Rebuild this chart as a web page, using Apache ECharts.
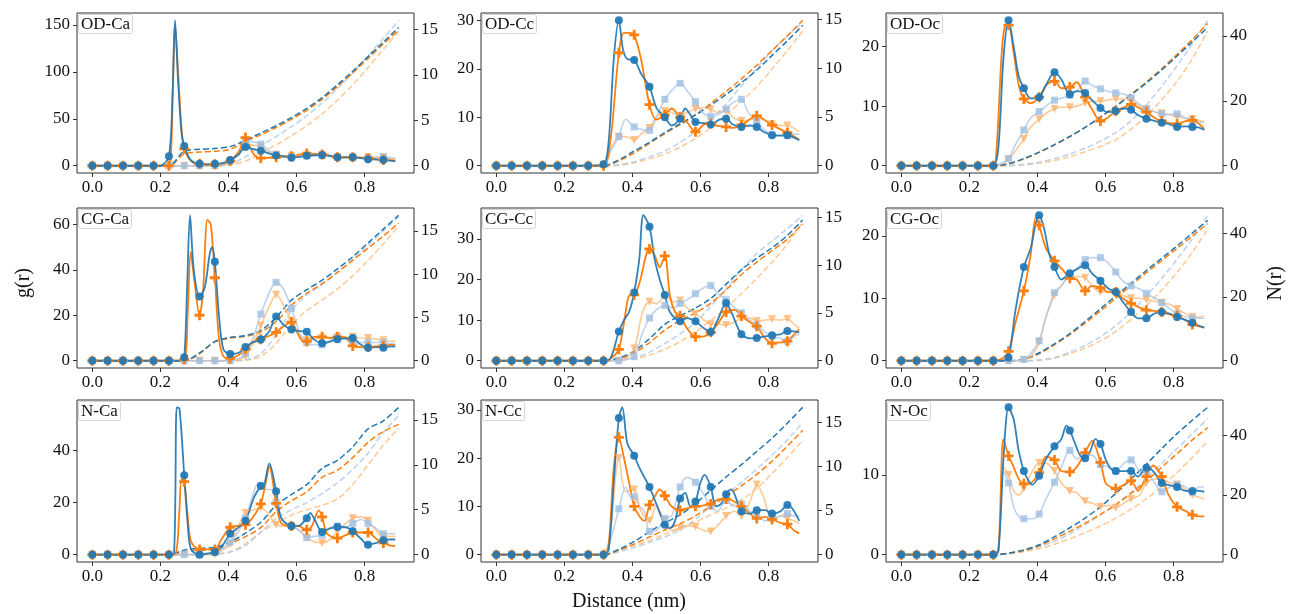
<!DOCTYPE html>
<html><head><meta charset="utf-8">
<script src="https://cdn.jsdelivr.net/npm/echarts@6/dist/echarts.min.js"></script>
<style>html,body{margin:0;padding:0;background:#fff}#c{width:1293px;height:614px}</style>
</head><body><div id="c"></div>
<script>
// ---------------- DATA ----------------
const panelNames = ['OD-Ca','OD-Cc','OD-Oc','CG-Ca','CG-Cc','CG-Oc','N-Ca','N-Cc','N-Oc'];
const xTicks = [0, 0.2, 0.4, 0.6, 0.8];
const leftTicks = [[0,50,100,150],[0,10,20,30],[0,10,20],[0,20,40,60],[0,10,20,30],[0,10,20],[0,20,40],[0,10,20,30],[0,10]];
const rightTicks = [[0,5,10,15],[0,5,10,15],[0,20,40],[0,5,10,15],[0,5,10,15],[0,20,40],[0,5,10,15],[0,5,10,15],[0,20,40]];
const rN = [0,0.045,0.09,0.135,0.18,0.225,0.27,0.315,0.36,0.405,0.45,0.495,0.54,0.585,0.63,0.675,0.72,0.765,0.81,0.855,0.9];

// OD-Ca
const gB_ODCa = [[0,0],[0.045,0],[0.09,0],[0.135,0],[0.18,0],[0.2,0],[0.225,10],[0.236,80],[0.243,155],[0.252,90],[0.262,35],[0.27,21],[0.285,8],[0.3,3],[0.315,2],[0.34,1.5],[0.36,2],[0.385,3],[0.405,6],[0.43,12],[0.45,20],[0.47,18],[0.495,16],[0.52,13],[0.54,11],[0.56,10],[0.585,8.5],[0.61,9.5],[0.63,10.5],[0.65,11],[0.675,11.5],[0.7,10.5],[0.72,9],[0.745,9],[0.765,9],[0.79,8],[0.81,7],[0.835,6.5],[0.855,6],[0.875,5.5],[0.89,5]];
const gO_ODCa = [[0,0],[0.045,0],[0.09,0],[0.135,0],[0.18,0],[0.225,0],[0.232,20],[0.243,150],[0.252,100],[0.262,40],[0.27,18],[0.285,7],[0.3,3],[0.315,2],[0.34,1],[0.36,1.5],[0.385,2.5],[0.405,5],[0.43,15],[0.45,30],[0.465,18],[0.48,10],[0.495,8],[0.52,8.5],[0.54,9],[0.56,10],[0.585,10],[0.61,12],[0.63,13],[0.65,12.5],[0.675,12],[0.7,10.5],[0.72,9],[0.745,9],[0.765,9],[0.79,8.5],[0.81,8],[0.835,7],[0.855,6],[0.875,6],[0.89,5.5]];
const gLB_ODCa = [[0,0],[0.045,0],[0.09,0],[0.135,0],[0.18,0],[0.225,0],[0.27,0],[0.315,0],[0.36,0],[0.385,1],[0.405,5],[0.43,15],[0.45,24],[0.465,26],[0.48,25],[0.495,23],[0.52,16],[0.54,12],[0.56,10.5],[0.585,10],[0.61,10.5],[0.63,11],[0.65,11],[0.675,11],[0.7,10],[0.72,9],[0.745,9],[0.765,9],[0.79,8.5],[0.81,8.5],[0.835,9],[0.855,9.5],[0.875,8.5],[0.89,8]];
const gLO_ODCa = [[0,0],[0.045,0],[0.09,0],[0.135,0],[0.18,0],[0.225,0],[0.27,0],[0.315,0],[0.36,0],[0.385,0.5],[0.405,4],[0.43,13],[0.45,21],[0.47,22],[0.495,20],[0.52,14],[0.54,12],[0.56,10.5],[0.585,10],[0.61,11],[0.63,11.5],[0.65,11.5],[0.675,11.5],[0.7,10],[0.72,9],[0.745,9],[0.765,9],[0.79,9],[0.81,9],[0.835,9],[0.855,9],[0.875,8],[0.89,7]];
const nB_ODCa = [0,0,0,0,0,0,1.6,1.8,1.9,2.1,2.8,3.6,4.4,5.3,6.3,7.5,8.9,10.4,12.0,13.6,15.2];
const nO_ODCa = [0,0,0,0,0,0,1.3,1.5,1.6,1.8,2.7,3.4,4.2,5.1,6.1,7.3,8.7,10.2,11.8,13.4,14.9];
const nLB_ODCa = [0,0,0,0,0,0,0,0,0,0.2,1.0,2.2,3.2,4.3,5.5,6.9,8.5,10.2,12.1,14.0,16.0];
const nLO_ODCa = [0,0,0,0,0,0,0,0,0,0.1,0.5,1.4,2.3,3.3,4.4,5.7,7.2,8.9,10.8,12.8,14.8];

// OD-Cc
const gB_ODCc = [[0,0],[0.045,0],[0.09,0],[0.135,0],[0.18,0],[0.225,0],[0.27,0],[0.315,0.3],[0.33,5],[0.345,22],[0.36,30],[0.372,24],[0.385,22],[0.405,21.8],[0.425,19],[0.45,16.3],[0.47,12],[0.495,10],[0.515,8.3],[0.54,9.7],[0.555,11.8],[0.57,10.5],[0.585,9],[0.61,8.8],[0.63,8.5],[0.655,9.5],[0.675,9.7],[0.695,8.5],[0.72,8],[0.745,8.3],[0.765,8],[0.785,7],[0.81,6.3],[0.835,6.2],[0.855,6.3],[0.875,5.8],[0.89,5.3]];
const gO_ODCc = [[0,0],[0.045,0],[0.09,0],[0.135,0],[0.18,0],[0.225,0],[0.27,0],[0.315,0],[0.335,5],[0.36,23.3],[0.375,27.4],[0.39,27.4],[0.405,27],[0.425,22],[0.45,12.6],[0.47,9.5],[0.495,10.5],[0.515,11.8],[0.54,10],[0.56,9],[0.585,7],[0.61,8.5],[0.63,8.7],[0.65,8.2],[0.675,8],[0.695,7.8],[0.72,8.4],[0.745,9.6],[0.765,10.3],[0.785,9.6],[0.81,8.4],[0.835,7.5],[0.855,6.8],[0.875,6],[0.89,5.3]];
const gLB_ODCc = [[0,0],[0.045,0],[0.09,0],[0.135,0],[0.18,0],[0.225,0],[0.27,0],[0.315,0.3],[0.335,3],[0.36,6],[0.38,9.6],[0.405,8],[0.425,7.5],[0.45,7.3],[0.47,10],[0.495,13.7],[0.515,15.5],[0.54,17],[0.56,15.5],[0.585,13.2],[0.605,11],[0.63,10.2],[0.65,10.5],[0.675,11.7],[0.695,13],[0.72,13.7],[0.74,11],[0.765,9.3],[0.785,7.5],[0.81,6.5],[0.835,6.3],[0.855,6.3],[0.875,6.5],[0.89,6.5]];
const gLO_ODCc = [[0,0],[0.045,0],[0.09,0],[0.135,0],[0.18,0],[0.225,0],[0.27,0],[0.315,0],[0.335,3],[0.36,6],[0.38,6],[0.405,5.3],[0.425,6.5],[0.45,7.8],[0.47,10],[0.495,11.3],[0.515,11],[0.54,10.3],[0.56,11],[0.585,11.7],[0.61,12],[0.63,11.6],[0.65,11],[0.675,11.3],[0.695,10],[0.72,9.3],[0.745,9.5],[0.765,9.8],[0.785,9.5],[0.81,8.5],[0.835,8.3],[0.855,8.3],[0.875,7.7],[0.89,7]];
const nB_ODCc = [0,0,0,0,0,0,0,0,0.6,1.5,2.4,3.4,4.3,5.2,6.2,7.3,8.5,9.8,11.3,12.8,14.4];
const nO_ODCc = [0,0,0,0,0,0,0,0,0.5,1.3,2.3,3.3,4.2,5.2,6.4,7.6,8.9,10.3,11.8,13.3,14.9];
const nLB_ODCc = [0,0,0,0,0,0,0,0,0.1,0.4,0.9,1.5,2.4,3.5,4.8,6.3,8.2,10.0,11.8,13.3,14.7];
const nLO_ODCc = [0,0,0,0,0,0,0,0,0.05,0.3,0.7,1.2,1.9,2.8,3.9,5.2,6.6,8.1,9.9,11.8,13.8];

// OD-Oc
const gB_ODOc = [[0,0],[0.045,0],[0.09,0],[0.135,0],[0.18,0],[0.225,0],[0.27,0],[0.285,3],[0.3,18],[0.315,24.4],[0.33,20],[0.345,15],[0.36,13],[0.38,11.3],[0.405,11.5],[0.425,13.5],[0.45,15.7],[0.47,14.5],[0.495,12],[0.515,12.5],[0.54,12.2],[0.56,11],[0.585,9.7],[0.605,9],[0.63,9.2],[0.655,9.6],[0.675,9.4],[0.695,8.5],[0.72,7.9],[0.745,7.5],[0.765,7.2],[0.785,7],[0.81,6.5],[0.835,6.6],[0.855,6.5],[0.875,6.4],[0.89,6]];
const gO_ODOc = [[0,0],[0.045,0],[0.09,0],[0.135,0],[0.18,0],[0.225,0],[0.27,0],[0.28,3],[0.295,19],[0.305,23.5],[0.315,23.6],[0.33,19],[0.345,13.5],[0.36,11.2],[0.38,10.5],[0.405,11.5],[0.425,13.5],[0.45,14.2],[0.47,13],[0.495,13.2],[0.515,14],[0.54,11.5],[0.56,9.5],[0.585,7.5],[0.605,8],[0.63,9.2],[0.655,9.8],[0.675,10.3],[0.695,9.8],[0.72,9],[0.745,8],[0.765,7.5],[0.785,7.2],[0.81,7],[0.835,7.5],[0.855,7.6],[0.875,7],[0.89,6.2]];
const gLB_ODOc = [[0,0],[0.045,0],[0.09,0],[0.135,0],[0.18,0],[0.225,0],[0.27,0],[0.29,0.3],[0.315,1.2],[0.335,3.5],[0.36,6],[0.38,8],[0.405,9.1],[0.425,10],[0.45,11],[0.47,11.3],[0.495,11.8],[0.515,12.5],[0.54,14.2],[0.56,13.5],[0.585,12.9],[0.605,12.5],[0.63,12.2],[0.655,12],[0.675,11.4],[0.695,10.5],[0.72,9.5],[0.745,9],[0.765,8.7],[0.785,8.6],[0.81,8.7],[0.835,8],[0.855,7.5],[0.875,7.3],[0.89,7.2]];
const gLO_ODOc = [[0,0],[0.045,0],[0.09,0],[0.135,0],[0.18,0],[0.225,0],[0.27,0],[0.29,0.2],[0.315,1],[0.335,2.5],[0.36,4.5],[0.38,6.5],[0.405,7.8],[0.425,8.8],[0.45,9.5],[0.47,9.8],[0.495,9.8],[0.515,10],[0.54,10.5],[0.56,10.8],[0.585,10.8],[0.605,11],[0.63,11.2],[0.655,11.2],[0.675,11],[0.695,10.2],[0.72,9.5],[0.745,9],[0.765,8.8],[0.785,8.6],[0.81,8.2],[0.835,8],[0.855,7.8],[0.875,7.6],[0.89,7.4]];
const nB_ODOc = [0,0,0,0,0,0,0,0.6,2.2,4.2,6.5,9.0,11.8,15.0,18.3,21.8,25.5,29.5,33.8,38.2,42.6];
const nO_ODOc = [0,0,0,0,0,0,0,0.6,2.1,4.1,6.4,9.0,11.8,15.0,18.4,22.0,25.8,29.9,34.3,38.9,43.8];
const nLB_ODOc = [0,0,0,0,0,0,0,0.05,0.4,1.1,2.2,3.6,5.4,7.6,10.2,13.8,18.7,24.5,30.8,37.5,44.8];
const nLO_ODOc = [0,0,0,0,0,0,0,0.03,0.3,0.8,1.6,2.8,4.3,6.0,8.0,11.3,15.3,20.3,26.0,33.0,41.5];

// CG-Ca
const gB_CGCa = [[0,0],[0.045,0],[0.09,0],[0.135,0],[0.18,0],[0.225,0],[0.26,0],[0.27,1.5],[0.278,30],[0.287,64],[0.298,40],[0.315,28.3],[0.33,32],[0.345,47],[0.352,50],[0.36,43.5],[0.372,20],[0.385,5],[0.405,3],[0.43,3.5],[0.45,6],[0.47,8],[0.495,9.3],[0.52,13],[0.54,19.5],[0.56,16],[0.585,13.7],[0.61,13],[0.63,12.7],[0.65,9.5],[0.675,7.7],[0.7,8.5],[0.72,9.5],[0.745,9.8],[0.765,10],[0.785,7.5],[0.81,5.7],[0.835,6],[0.855,5.7],[0.875,6.3],[0.89,6.2]];
const gO_CGCa = [[0,0],[0.045,0],[0.09,0],[0.135,0],[0.18,0],[0.225,0],[0.27,0.5],[0.28,20],[0.289,48],[0.3,35],[0.315,20],[0.325,30],[0.338,62],[0.348,60],[0.36,36.5],[0.372,10],[0.385,2],[0.405,1],[0.43,2.5],[0.45,5],[0.47,8],[0.495,9.5],[0.52,11],[0.54,12.5],[0.56,15],[0.585,17],[0.6,13],[0.615,9],[0.63,8.5],[0.65,10.5],[0.675,10.5],[0.7,10],[0.72,10.5],[0.745,10],[0.765,6.5],[0.785,6],[0.81,6],[0.835,6.3],[0.855,6.5],[0.875,7],[0.89,7]];
const gLB_CGCa = [[0,0],[0.045,0],[0.09,0],[0.135,0],[0.18,0],[0.225,0],[0.27,0],[0.315,0],[0.36,0],[0.405,0],[0.43,1],[0.45,3],[0.47,9],[0.495,20.5],[0.52,30],[0.54,34.5],[0.56,32],[0.585,23],[0.61,12],[0.63,8],[0.65,7],[0.675,7],[0.7,9],[0.72,10.5],[0.745,9.5],[0.765,8],[0.785,8],[0.81,8],[0.835,8],[0.855,8],[0.875,7.5],[0.89,7.5]];
const gLO_CGCa = [[0,0],[0.045,0],[0.09,0],[0.135,0],[0.18,0],[0.225,0],[0.27,0],[0.315,0],[0.36,0],[0.405,0],[0.43,0.5],[0.45,2],[0.47,7],[0.495,15.5],[0.52,24],[0.54,29],[0.56,25],[0.585,17.5],[0.61,11],[0.63,9],[0.65,9.5],[0.675,10],[0.7,10],[0.72,10.5],[0.745,10.5],[0.765,10.5],[0.785,10],[0.81,10],[0.835,9.5],[0.855,9],[0.875,8.5],[0.89,8.5]];
const nB_CGCa = [0,0,0,0,0,0,0,0.9,2.2,2.7,2.9,3.5,5.0,7.0,8.2,9.3,10.6,12.0,13.6,15.2,16.8];
const nO_CGCa = [0,0,0,0,0,0,0,0.8,2.2,2.6,2.8,3.3,4.5,6.4,7.8,8.9,10.2,11.6,13.0,14.4,15.9];
const nLB_CGCa = [0,0,0,0,0,0,0,0,0,0,0.1,0.8,3.0,5.8,7.6,8.8,10.2,11.7,13.3,15.0,16.6];
const nLO_CGCa = [0,0,0,0,0,0,0,0,0,0,0.05,0.5,2.0,4.2,5.8,7.0,8.3,9.8,11.6,13.5,15.6];

// CG-Cc
const gB_CGCc = [[0,0],[0.045,0],[0.09,0],[0.135,0],[0.18,0],[0.225,0],[0.27,0],[0.315,0],[0.335,0.5],[0.36,7.2],[0.375,10],[0.39,12],[0.405,16.8],[0.42,25],[0.432,35.8],[0.45,33],[0.465,25],[0.48,20],[0.495,16.2],[0.51,12],[0.54,9.7],[0.56,10.5],[0.585,9.7],[0.61,8],[0.63,7.1],[0.65,10],[0.675,14.2],[0.69,12],[0.72,6.5],[0.745,5.5],[0.765,5.6],[0.79,6],[0.81,6.3],[0.835,6.5],[0.855,7.3],[0.875,7.2],[0.89,7]];
const gO_CGCc = [[0,0],[0.045,0],[0.09,0],[0.135,0],[0.18,0],[0.225,0],[0.27,0],[0.315,0],[0.335,0.5],[0.36,2.8],[0.38,12],[0.39,16],[0.405,16.2],[0.42,19],[0.45,27.5],[0.465,26],[0.48,23],[0.495,25.8],[0.51,16],[0.525,12],[0.54,11],[0.56,8],[0.585,5.9],[0.61,6],[0.63,7],[0.65,9],[0.675,12],[0.7,12.5],[0.72,11],[0.745,9.5],[0.765,8.5],[0.79,5.5],[0.81,4.3],[0.835,4.5],[0.855,4.8],[0.875,6.5],[0.89,7.8]];
const gLB_CGCc = [[0,0],[0.045,0],[0.09,0],[0.135,0],[0.18,0],[0.225,0],[0.27,0],[0.315,0],[0.36,0],[0.38,0.3],[0.405,1],[0.43,7],[0.45,10.5],[0.47,12.5],[0.495,13.6],[0.52,13],[0.54,14.1],[0.56,15],[0.585,16.5],[0.61,18],[0.63,18.5],[0.65,16.5],[0.675,15],[0.7,13],[0.72,11.8],[0.745,10],[0.765,8.7],[0.79,7],[0.81,6],[0.835,5.5],[0.855,4.8],[0.875,6],[0.89,6.5]];
const gLO_CGCc = [[0,0],[0.045,0],[0.09,0],[0.135,0],[0.18,0],[0.225,0],[0.27,0],[0.315,0],[0.36,0],[0.38,0.5],[0.405,3],[0.43,12],[0.45,14.5],[0.47,14],[0.495,15.8],[0.52,14.5],[0.54,14.8],[0.56,13],[0.585,11.5],[0.61,10],[0.63,9],[0.65,9],[0.675,8.8],[0.7,9.5],[0.72,10.5],[0.745,10.5],[0.765,9.8],[0.79,10],[0.81,10.2],[0.835,10],[0.855,10.3],[0.875,9],[0.89,8]];
const nB_CGCc = [0,0,0,0,0,0,0,0,0.3,1.0,2.3,3.8,4.7,5.5,6.5,8.0,9.5,10.7,11.8,13.1,14.7];
const nO_CGCc = [0,0,0,0,0,0,0,0,0.2,0.8,1.9,3.2,4.2,5.0,6.0,7.4,9.0,10.3,11.5,12.7,14.3];
const nLB_CGCc = [0,0,0,0,0,0,0,0,0.05,0.3,0.9,1.8,2.8,4.0,5.7,7.5,9.5,11.2,12.5,13.8,15.2];
const nLO_CGCc = [0,0,0,0,0,0,0,0,0.03,0.2,0.6,1.2,2.0,3.0,4.2,5.5,7.0,8.6,10.3,12.2,14.5];

// CG-Oc
const gB_CGOc = [[0,0],[0.045,0],[0.09,0],[0.135,0],[0.18,0],[0.225,0],[0.27,0],[0.295,0],[0.315,0.5],[0.335,8],[0.36,15],[0.38,18],[0.395,22],[0.405,23.3],[0.42,21],[0.435,17],[0.45,15],[0.47,13],[0.495,14],[0.52,14.8],[0.54,15.3],[0.56,14],[0.585,12.8],[0.61,11.5],[0.63,11],[0.65,9.5],[0.675,7.8],[0.695,6.8],[0.72,6.8],[0.745,7.6],[0.765,7.8],[0.79,7.5],[0.81,7],[0.835,6.5],[0.855,6.1],[0.875,5.6],[0.89,5.3]];
const gO_CGOc = [[0,0],[0.045,0],[0.09,0],[0.135,0],[0.18,0],[0.225,0],[0.27,0],[0.295,0.3],[0.315,1.5],[0.335,6],[0.36,11.2],[0.38,17],[0.395,23],[0.405,21.7],[0.425,18],[0.45,16],[0.475,14.5],[0.495,13.2],[0.515,13],[0.54,11.2],[0.56,12],[0.585,11.7],[0.61,11],[0.63,11],[0.65,10],[0.675,9.2],[0.7,8.5],[0.72,8.1],[0.745,8],[0.765,7.8],[0.79,7.4],[0.81,7.2],[0.835,6.5],[0.855,5.8],[0.875,5.5],[0.89,5.3]];
const gLB_CGOc = [[0,0],[0.045,0],[0.09,0],[0.135,0],[0.18,0],[0.225,0],[0.27,0],[0.315,0],[0.36,0.2],[0.385,1.5],[0.405,3.2],[0.425,7],[0.45,10.9],[0.47,12],[0.495,13.8],[0.52,15],[0.54,16.2],[0.56,16.5],[0.585,16.5],[0.61,15.5],[0.63,14.2],[0.65,12.8],[0.675,12],[0.7,11.5],[0.72,10.8],[0.745,10],[0.765,9.3],[0.79,8.3],[0.81,7.5],[0.835,7],[0.855,6.8],[0.875,6.8],[0.89,6.8]];
const gLO_CGOc = [[0,0],[0.045,0],[0.09,0],[0.135,0],[0.18,0],[0.225,0],[0.27,0],[0.315,0],[0.36,0.1],[0.385,1],[0.405,3],[0.425,7],[0.45,10.5],[0.47,12],[0.495,13.5],[0.52,13.5],[0.54,13.3],[0.56,12],[0.585,11],[0.61,11],[0.63,11],[0.65,10.5],[0.675,10],[0.7,10],[0.72,9.8],[0.745,9.5],[0.765,9.3],[0.79,9],[0.81,8.3],[0.835,7.5],[0.855,7],[0.875,7],[0.89,7.2]];
const nB_CGOc = [0,0,0,0,0,0,0,0,0.5,2.5,5.3,8.5,12.3,16.3,20.3,24.3,28.3,32.1,36.0,40.0,44.0];
const nO_CGOc = [0,0,0,0,0,0,0,0,0.4,2.2,5.0,8.2,11.8,15.6,19.6,23.6,27.6,31.4,35.2,39.1,43.0];
const nLB_CGOc = [0,0,0,0,0,0,0,0,0,0.2,1.0,2.7,4.8,7.5,11.0,15.3,20.3,25.8,31.8,38.3,45.6];
const nLO_CGOc = [0,0,0,0,0,0,0,0,0,0.15,0.8,2.2,4.0,6.2,9.2,13.0,17.3,22.2,27.7,34.0,41.3];

// N-Ca
const gB_NCa = [[0,0],[0.045,0],[0.09,0],[0.135,0],[0.18,0],[0.225,0],[0.24,0.5],[0.248,56.5],[0.256,56],[0.27,30.5],[0.28,12],[0.29,2],[0.315,0],[0.34,0.5],[0.36,1],[0.38,3],[0.405,8],[0.425,10],[0.45,13],[0.475,22],[0.495,26.3],[0.505,27],[0.52,35],[0.54,24.3],[0.555,14],[0.585,11],[0.605,11],[0.63,14],[0.64,16],[0.655,13],[0.675,8.7],[0.695,10],[0.72,10.6],[0.745,10.5],[0.765,9],[0.79,6],[0.81,3.8],[0.835,4.5],[0.855,5.5],[0.875,5.8],[0.89,5.8]];
const gO_NCa = [[0,0],[0.045,0],[0.09,0],[0.135,0],[0.18,0],[0.225,0],[0.245,0.5],[0.255,15],[0.262,29],[0.27,28],[0.28,15],[0.29,5],[0.315,2],[0.34,2],[0.36,2],[0.38,6],[0.405,10.5],[0.425,11],[0.45,11.5],[0.47,14],[0.495,19.5],[0.51,28],[0.52,34],[0.54,19.7],[0.555,12],[0.585,11],[0.605,11],[0.63,9.5],[0.645,11],[0.665,17],[0.675,14.5],[0.69,8],[0.72,6.3],[0.745,7.5],[0.765,8.5],[0.79,8.5],[0.81,8.5],[0.835,6],[0.855,4.5],[0.875,3.5],[0.89,3.3]];
const gLB_NCa = [[0,0],[0.045,0],[0.09,0],[0.135,0],[0.18,0],[0.225,0],[0.27,0],[0.315,0],[0.36,0.8],[0.38,2],[0.405,4.8],[0.425,8],[0.45,14],[0.47,22],[0.485,27],[0.495,26.5],[0.51,25],[0.525,25],[0.54,20],[0.56,13],[0.585,11],[0.61,9],[0.63,6.5],[0.65,7],[0.675,7.5],[0.7,10],[0.72,11],[0.745,10.5],[0.765,12],[0.79,13.5],[0.81,12],[0.835,10],[0.855,8],[0.875,8],[0.89,8]];
const gLO_NCa = [[0,0],[0.045,0],[0.09,0],[0.135,0],[0.18,0],[0.225,0],[0.27,0],[0.315,0],[0.36,0],[0.38,1.5],[0.405,4],[0.425,10],[0.45,16],[0.47,17],[0.495,18],[0.515,16],[0.54,11.5],[0.56,11],[0.585,11],[0.61,9],[0.63,6.5],[0.65,5],[0.675,4.5],[0.7,6],[0.72,9],[0.745,12],[0.765,14],[0.79,14.5],[0.81,13],[0.835,9],[0.855,7],[0.875,7],[0.89,7]];
const nB_NCa = [0,0,0,0,0,0,0.5,0.7,0.8,1.4,2.4,3.6,5.5,6.7,7.8,9.6,10.5,12.0,14.0,14.9,16.4];
const nO_NCa = [0,0,0,0,0,0,0.3,0.5,0.6,1.2,2.0,3.0,4.8,6.0,7.0,8.6,9.4,10.8,12.5,13.7,14.5];
const nLB_NCa = [0,0,0,0,0,0,0,0,0.05,0.3,1.0,2.5,4.0,5.0,5.8,6.8,8.0,9.5,11.3,13.6,15.5];
const nLO_NCa = [0,0,0,0,0,0,0,0,0.05,0.3,1.2,2.5,3.5,4.4,5.0,5.5,6.2,7.8,10.0,12.2,14.1];

// N-Cc
const gB_NCc = [[0,0],[0.045,0],[0.09,0],[0.135,0],[0.18,0],[0.225,0],[0.27,0],[0.315,0],[0.33,1],[0.345,15],[0.36,28.3],[0.37,30.5],[0.385,23],[0.405,20.5],[0.42,18],[0.45,14],[0.47,10.5],[0.495,6.2],[0.51,5.5],[0.525,7],[0.54,11.6],[0.555,12.8],[0.57,10],[0.585,11],[0.6,15],[0.612,16.5],[0.63,14],[0.645,10],[0.66,10.5],[0.675,12.5],[0.69,13.5],[0.72,9],[0.745,8.5],[0.765,9.2],[0.79,9.2],[0.81,8.5],[0.835,9],[0.855,10.3],[0.87,9.5],[0.89,7]];
const gO_NCc = [[0,0],[0.045,0],[0.09,0],[0.135,0],[0.18,0],[0.225,0],[0.27,0],[0.315,0],[0.33,2],[0.345,18],[0.36,24.3],[0.375,20],[0.39,15],[0.405,10],[0.42,8],[0.435,7],[0.45,10.3],[0.465,12],[0.48,13.5],[0.495,12.2],[0.515,10],[0.54,9.2],[0.56,9.6],[0.585,10],[0.61,10.2],[0.63,10.5],[0.655,11.5],[0.675,11.5],[0.7,11],[0.72,10],[0.745,8.5],[0.765,7.5],[0.79,7.8],[0.81,7.3],[0.835,6.6],[0.855,6.3],[0.875,5],[0.89,4.4]];
const gLB_NCc = [[0,0],[0.045,0],[0.09,0],[0.135,0],[0.18,0],[0.225,0],[0.27,0],[0.315,0],[0.335,3],[0.36,9.5],[0.38,14],[0.395,12],[0.405,12],[0.42,10],[0.435,9],[0.45,4.8],[0.47,5],[0.495,7.5],[0.515,8],[0.54,14],[0.56,16],[0.585,15],[0.605,13],[0.63,10],[0.65,9],[0.675,11.2],[0.7,10],[0.72,10.5],[0.745,9],[0.765,8.5],[0.79,7],[0.81,7.5],[0.835,8],[0.855,8.5],[0.875,8],[0.89,8]];
const gLO_NCc = [[0,0],[0.045,0],[0.09,0],[0.135,0],[0.18,0],[0.225,0],[0.27,0],[0.315,0],[0.335,5],[0.36,20],[0.38,13],[0.405,13.5],[0.425,9],[0.45,7],[0.47,10],[0.495,7],[0.515,5],[0.54,5.5],[0.56,6],[0.585,5.8],[0.61,5],[0.63,4.8],[0.65,6],[0.675,8],[0.7,9],[0.72,8],[0.745,11],[0.765,14.5],[0.785,12],[0.81,7],[0.835,8],[0.855,7.5],[0.875,7],[0.89,6.5]];
const nB_NCc = [0,0,0,0,0,0,0,0,0.6,1.5,2.6,3.6,4.5,5.8,7.3,8.8,10.2,11.7,13.2,14.9,16.7];
const nO_NCc = [0,0,0,0,0,0,0,0,0.5,1.2,2.0,2.8,3.5,4.4,5.5,6.6,7.8,9.1,10.6,12.3,14.1];
const nLB_NCc = [0,0,0,0,0,0,0,0,0.3,0.8,1.4,2.0,2.8,4.0,5.5,6.8,8.2,9.7,11.3,13.0,15.0];
const nLO_NCc = [0,0,0,0,0,0,0,0,0.5,1.0,1.6,2.3,3.0,3.7,4.5,5.3,6.2,7.5,9.2,11.0,13.0];

// N-Oc
const gB_NOc = [[0,0],[0.045,0],[0.09,0],[0.135,0],[0.18,0],[0.225,0],[0.27,0],[0.285,0.5],[0.3,12],[0.315,18.5],[0.33,17],[0.345,13],[0.36,10.5],[0.375,9.2],[0.385,8.8],[0.405,9.9],[0.425,12],[0.45,13.6],[0.47,14.5],[0.485,16.2],[0.495,15.6],[0.51,14],[0.525,12.5],[0.54,12.1],[0.555,13],[0.57,14.5],[0.585,13.9],[0.6,12],[0.615,10.8],[0.63,10.5],[0.655,10.5],[0.675,10.5],[0.695,9.8],[0.72,10.9],[0.74,10.5],[0.765,9],[0.79,8.7],[0.81,8.5],[0.835,8],[0.855,8],[0.875,8],[0.89,7.9]];
const gO_NOc = [[0,0],[0.045,0],[0.09,0],[0.135,0],[0.18,0],[0.225,0],[0.27,0],[0.285,0.5],[0.3,14.5],[0.315,12.4],[0.33,11],[0.345,9.5],[0.36,8.9],[0.38,9],[0.405,10.3],[0.425,12.3],[0.45,11.9],[0.47,10.5],[0.495,10.4],[0.515,11],[0.54,12.8],[0.56,14.3],[0.585,11.6],[0.6,9],[0.615,8.5],[0.63,8.3],[0.655,8.8],[0.675,9.3],[0.695,8],[0.72,9.8],[0.74,11.2],[0.765,9.8],[0.785,7.5],[0.81,6],[0.835,5.5],[0.855,5],[0.875,4.8],[0.89,4.8]];
const gLB_NOc = [[0,0],[0.045,0],[0.09,0],[0.135,0],[0.18,0],[0.225,0],[0.27,0],[0.285,0.3],[0.3,10.5],[0.315,9],[0.33,6],[0.345,4.8],[0.36,4.5],[0.385,4.5],[0.405,5.1],[0.425,7],[0.45,9.1],[0.47,11],[0.495,13.1],[0.515,12],[0.54,12.5],[0.56,12.5],[0.585,11.3],[0.61,11],[0.63,10.5],[0.655,11.5],[0.675,11.9],[0.7,10.5],[0.72,10.3],[0.745,9],[0.765,7.9],[0.79,8.5],[0.81,8.8],[0.835,8.5],[0.855,7.8],[0.875,8.5],[0.89,8.5]];
const gLO_NOc = [[0,0],[0.045,0],[0.09,0],[0.135,0],[0.18,0],[0.225,0],[0.27,0],[0.285,0.3],[0.3,11],[0.315,10],[0.33,8],[0.345,7.5],[0.36,8.3],[0.385,10.5],[0.405,11.5],[0.425,11.5],[0.45,10.5],[0.47,9],[0.495,8],[0.515,7.8],[0.54,6.7],[0.56,6.5],[0.585,6],[0.61,6.2],[0.63,5.9],[0.655,6.5],[0.675,7],[0.7,7.5],[0.72,9],[0.745,9.5],[0.765,9.5],[0.79,9],[0.81,8.8],[0.835,8.2],[0.855,7.5],[0.875,7.2],[0.89,7]];
const nB_NOc = [0,0,0,0,0,0,0,0.5,1.6,3.3,6.0,9.0,12.2,16.0,20.5,25.3,30.3,35.5,40.5,45.0,49.3];
const nO_NOc = [0,0,0,0,0,0,0,0.4,1.4,3.0,5.3,7.8,10.5,13.5,16.7,20.5,24.6,29.3,33.8,38.4,42.5];
const nLB_NOc = [0,0,0,0,0,0,0,0.4,1.3,2.6,4.5,7.0,10.0,13.2,16.8,21.0,25.5,30.5,35.5,40.5,45.5];
const nLO_NOc = [0,0,0,0,0,0,0,0.3,1.0,2.0,3.5,5.3,7.3,9.6,12.2,15.2,18.7,22.8,27.5,32.5,38.0];

// ---------------- BUILD ----------------
const gSets = [
  [gB_ODCa,gO_ODCa,gLB_ODCa,gLO_ODCa],[gB_ODCc,gO_ODCc,gLB_ODCc,gLO_ODCc],[gB_ODOc,gO_ODOc,gLB_ODOc,gLO_ODOc],
  [gB_CGCa,gO_CGCa,gLB_CGCa,gLO_CGCa],[gB_CGCc,gO_CGCc,gLB_CGCc,gLO_CGCc],[gB_CGOc,gO_CGOc,gLB_CGOc,gLO_CGOc],
  [gB_NCa,gO_NCa,gLB_NCa,gLO_NCa],[gB_NCc,gO_NCc,gLB_NCc,gLO_NCc],[gB_NOc,gO_NOc,gLB_NOc,gLO_NOc]];
const nSets = [
  [nB_ODCa,nO_ODCa,nLB_ODCa,nLO_ODCa],[nB_ODCc,nO_ODCc,nLB_ODCc,nLO_ODCc],[nB_ODOc,nO_ODOc,nLB_ODOc,nLO_ODOc],
  [nB_CGCa,nO_CGCa,nLB_CGCa,nLO_CGCa],[nB_CGCc,nO_CGCc,nLB_CGCc,nLO_CGCc],[nB_CGOc,nO_CGOc,nLB_CGOc,nLO_CGOc],
  [nB_NCa,nO_NCa,nLB_NCa,nLO_NCa],[nB_NCc,nO_NCc,nLB_NCc,nLO_NCc],[nB_NOc,nO_NOc,nLB_NOc,nLO_NOc]];

const FONT = 'Liberation Serif';
const colLeft = [77, 481, 886], colW = 337;
const rowTop = [13, 208, 400], rowH = [160, 160, 162];
const plusPath = 'path://M3.6,0H6.4V3.6H10V6.4H6.4V10H3.6V6.4H0V3.6H3.6Z';
const styles = [
  {color:'#1f77b4', symbol:'circle', size:8, rot:0, op:0.92, lw:1.8},
  {color:'#ff7f0e', symbol:plusPath, size:10, rot:0, op:1, lw:1.8},
  {color:'#aec7e8', symbol:'rect', size:7, rot:0, op:0.8, lw:1.6},
  {color:'#ffbb78', symbol:'triangle', size:8, rot:180, op:0.8, lw:1.6}
];
const markerColors = ['#1f77b4','#ff7f0e','#9dbfe2','#ffb36e'];
const isMark = x => { const k = x/0.045; return Math.abs(k-Math.round(k)) < 1e-6 && x < 0.86; };
const tickFont = {fontFamily:FONT, fontSize:17, color:'#111'};
const noLine = {show:false, onZero:false};

const grid=[], xAxis=[], yAxis=[], series=[], title=[];
panelNames.forEach((name, p) => {
  const r = Math.floor(p/3), c = p%3;
  grid.push({left:colLeft[c], top:rowTop[r], width:colW, height:rowH[r], show:true, borderColor:'#333', borderWidth:1, backgroundColor:'rgba(0,0,0,0)'});
  xAxis.push({gridIndex:p, type:'value', min:-0.045, max:0.945,
    axisLine:noLine, splitLine:{show:false},
    axisTick:{show:true, length:4, customValues:xTicks, lineStyle:{color:'#333'}},
    axisLabel:{customValues:xTicks, formatter:v=>Number(v).toFixed(1), margin:6, ...tickFont}});
  const gMax = Math.max(...gSets[p].flat().map(pt=>pt[1]));
  const nMax = Math.max(...nSets[p].flat());
  yAxis.push({gridIndex:p, type:'value', position:'left', min:-0.05*gMax, max:1.05*gMax,
    axisLine:noLine, splitLine:{show:false},
    axisTick:{show:true, length:4, customValues:leftTicks[p], lineStyle:{color:'#333'}},
    axisLabel:{customValues:leftTicks[p], formatter:v=>String(v), margin:7, ...tickFont}});
  yAxis.push({gridIndex:p, type:'value', position:'right', min:-0.05*nMax, max:1.05*nMax,
    axisLine:noLine, splitLine:{show:false},
    axisTick:{show:true, length:4, customValues:rightTicks[p], lineStyle:{color:'#333'}},
    axisLabel:{customValues:rightTicks[p], formatter:v=>String(v), margin:7, ...tickFont}});
  title.push({text:name, left:colLeft[c]+1, top:rowTop[r]+1, padding:[2,3,1,3],
    backgroundColor:'rgba(255,255,255,0.85)', borderColor:'#d6d6d6', borderWidth:1, borderRadius:2,
    textStyle:{fontFamily:FONT, fontSize:17, fontWeight:'normal', color:'#111'}});
  // N(r) dashed (drawn first)
  [3,2,1,0].forEach(s => {
    const st = styles[s];
    series.push({type:'line', xAxisIndex:p, yAxisIndex:2*p+1, symbol:'none', smooth:0.3,
      data: rN.map((x,i)=>[x, nSets[p][s][i]]),
      lineStyle:{color:st.color, width:1.5, type:[6,3], opacity: s>=2?0.8:1}, z:2, silent:true});
  });
  // g(r) solid with markers
  [3,2,1,0].forEach(s => {
    const st = styles[s];
    series.push({type:'line', xAxisIndex:p, yAxisIndex:2*p, smooth:0.3, showSymbol:true, showAllSymbol:true,
      symbol:'none',
      data: gSets[p][s].map(pt => isMark(pt[0])
        ? {value:pt, symbol:st.symbol, symbolSize:st.size, symbolRotate:st.rot}
        : {value:pt, symbol:'none'}),
      lineStyle:{color:st.color, width:st.lw, opacity:st.op},
      itemStyle:{color:markerColors[s], opacity:st.op, borderWidth:0},
      z:3, silent:true});
  });
});

const chart = echarts.init(document.getElementById('c'), null, {renderer:'canvas'});
chart.setOption({
  animation:false, backgroundColor:'#fff',
  title, grid, xAxis, yAxis, series,
  graphic:[
    {type:'text', left:14, top:268, rotation:Math.PI/2, style:{text:'g(r)', font:'20px "Liberation Serif"', fill:'#111'}},
    {type:'text', left:1266, top:266, rotation:Math.PI/2, style:{text:'N(r)', font:'20px "Liberation Serif"', fill:'#111'}},
    {type:'text', left:572, top:592, style:{text:'Distance (nm)', font:'20px "Liberation Serif"', fill:'#111'}}
  ]
});
</script>
</body></html>
